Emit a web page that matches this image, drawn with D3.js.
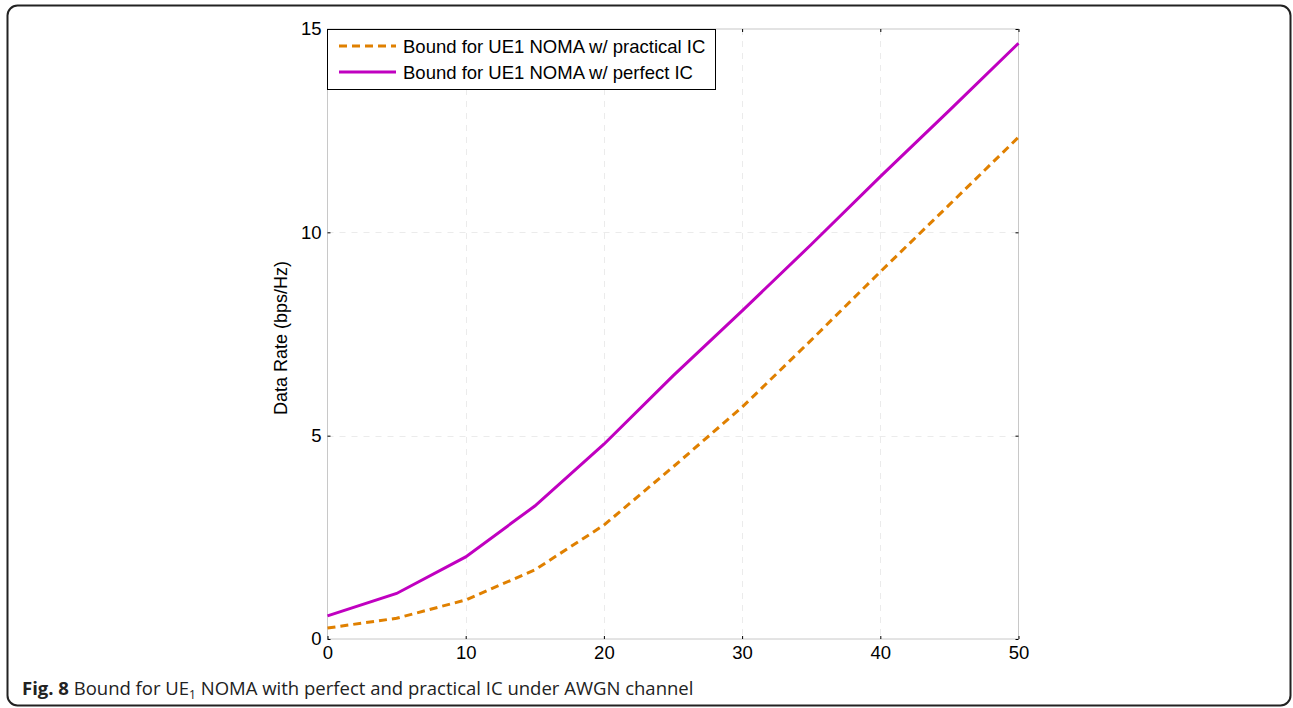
<!DOCTYPE html>
<html>
<head>
<meta charset="utf-8">
<script src="https://cdn.jsdelivr.net/npm/d3@7"></script>
<style>
  body { margin: 0; background: #fff; }
  svg { display: block; }
</style>
</head>
<body>
<div id="chart"></div>
<script>
// values
const snr = [0, 5, 10, 15, 20, 25, 30, 35, 40, 45, 50];
const practicalIC = [0.27, 0.51, 0.96, 1.70, 2.80, 4.23, 5.70, 7.35, 9.03, 10.68, 12.34];
const perfectIC = [0.57, 1.12, 2.02, 3.27, 4.79, 6.47, 8.07, 9.70, 11.37, 13.0, 14.65];
const xTicks = [0, 10, 20, 30, 40, 50];
const yTicks = [0, 5, 10, 15];
const seriesNames = ['Bound for UE1 NOMA w/ practical IC', 'Bound for UE1 NOMA w/ perfect IC'];

const W = 1293, H = 708;
const plot = { left: 327.5, right: 1018.5, top: 29, bottom: 639 };
const FONT = "'Liberation Sans', Arial, sans-serif";

const svg = d3.select('#chart').append('svg')
    .attr('width', W)
    .attr('height', H);

// outer rounded frame
svg.append('rect')
    .attr('x', 7.5).attr('y', 5.5)
    .attr('width', 1283).attr('height', 700)
    .attr('rx', 10).attr('ry', 10)
    .attr('fill', 'none')
    .attr('stroke', '#222')
    .attr('stroke-width', 2);

const x = d3.scaleLinear().domain([0, 50]).range([plot.left, plot.right]);
const y = d3.scaleLinear().domain([0, 15]).range([plot.bottom, plot.top]);

// grid
const grid = svg.append('g').attr('stroke', '#ebebeb').attr('stroke-width', 1).attr('stroke-dasharray', '6,6');
grid.selectAll('.gx').data(xTicks.slice(1, -1)).enter().append('line')
    .attr('x1', d => Math.round(x(d)) + 0.5).attr('x2', d => Math.round(x(d)) + 0.5)
    .attr('y1', plot.top).attr('y2', plot.bottom);
grid.selectAll('.gy').data(yTicks.slice(1, -1)).enter().append('line')
    .attr('y1', d => Math.round(y(d)) + 0.5).attr('y2', d => Math.round(y(d)) + 0.5)
    .attr('x1', plot.left).attr('x2', plot.right);

// box
svg.append('rect')
    .attr('x', plot.left).attr('y', plot.top)
    .attr('width', plot.right - plot.left).attr('height', plot.bottom - plot.top)
    .attr('fill', 'none').attr('stroke', '#c8c8c8').attr('stroke-width', 1);

// axes (inner ticks, black)
const tickStyle = g => {
    g.select('.domain').remove();
    g.selectAll('.tick line').attr('stroke', '#000');
    g.selectAll('.tick text').attr('fill', '#000')
        .style('font-family', FONT).style('font-size', '18.5px');
};
svg.append('g').attr('transform', `translate(0,${plot.bottom})`)
    .call(d3.axisBottom(x).tickValues(xTicks).tickSize(-3).tickPadding(7))
    .call(tickStyle);
svg.append('g').attr('transform', `translate(${plot.left},0)`)
    .call(d3.axisLeft(y).tickValues(yTicks).tickSize(-3).tickPadding(6))
    .call(tickStyle);
svg.append('g').attr('transform', `translate(0,${plot.top})`)
    .call(d3.axisTop(x).tickValues(xTicks).tickSize(-3).tickFormat(''))
    .call(tickStyle);
svg.append('g').attr('transform', `translate(${plot.right},0)`)
    .call(d3.axisRight(y).tickValues(yTicks).tickSize(-3).tickFormat(''))
    .call(tickStyle);

// y label
svg.append('text')
    .attr('transform', `translate(287,${(plot.top + plot.bottom) / 2 + 4}) rotate(-90)`)
    .attr('text-anchor', 'middle')
    .style('font-family', FONT)
    .style('font-size', '18px')
    .text('Data Rate (bps/Hz)');

// lines
const line = vals => d3.line().x((d, i) => x(snr[i])).y(d => y(d))(vals);
svg.append('path')
    .attr('d', line(perfectIC))
    .attr('fill', 'none').attr('stroke', '#c000c0').attr('stroke-width', 3);
svg.append('path')
    .attr('d', line(practicalIC))
    .attr('fill', 'none').attr('stroke', '#e08000').attr('stroke-width', 3)
    .attr('stroke-dasharray', '8,5');

// legend
const lg = svg.append('g');
lg.append('rect')
    .attr('x', 327.5).attr('y', 29.5).attr('width', 388).attr('height', 60)
    .attr('fill', '#fff').attr('stroke', '#000').attr('stroke-width', 1);
const legendItems = [
    { name: seriesNames[0], color: '#e08000', dash: '8,5', y: 46 },
    { name: seriesNames[1], color: '#c000c0', dash: null, y: 72 }
];
legendItems.forEach(it => {
    lg.append('line')
        .attr('x1', 339).attr('x2', 396).attr('y1', it.y).attr('y2', it.y)
        .attr('stroke', it.color).attr('stroke-width', 3)
        .attr('stroke-dasharray', it.dash);
    lg.append('text')
        .attr('x', 403).attr('y', it.y + 6.5)
        .style('font-family', FONT)
        .style('font-size', '18.5px')
        .text(it.name);
});

// caption
const cap = svg.append('text')
    .attr('x', 22).attr('y', 695)
    .style('font-family', "'Open Sans', sans-serif")
    .style('font-size', '18.5px')
    .attr('fill', '#222');
cap.append('tspan').style('font-weight', 'bold').text('Fig. 8');
cap.append('tspan').text(' Bound for UE');
cap.append('tspan').attr('dy', 4).style('font-size', '12px').text('1');
cap.append('tspan').attr('dy', -4).text(' NOMA with perfect and practical IC under AWGN channel');
</script>
</body>
</html>
